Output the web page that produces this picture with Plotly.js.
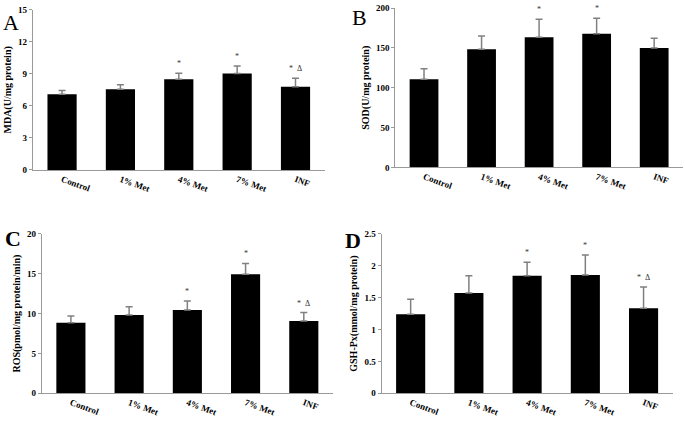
<!DOCTYPE html>
<html>
<head>
<meta charset="utf-8">
<script src="https://cdn.plot.ly/plotly-3.0.1.min.js"></script>
<style>html,body{margin:0;padding:0;background:#fff}#chart{width:685px;height:427px}</style>
</head>
<body>
<div id="chart"></div>
<script>
const categories = ["Control", "1% Met", "4% Met", "7% Met", "INF"];

const mdaMean = [7.1, 7.55, 8.5, 9.03, 7.8];
const mdaErr  = [0.35, 0.42, 0.55, 0.7, 0.8];
const mdaSig  = ["", "", "*", "*", "*\u00a0\u00a0\u0394"];

const sodMean = [110.7, 148.4, 163.5, 167.7, 150];
const sodErr  = [13, 16.6, 22.5, 19.7, 12];
const sodSig  = ["", "", "*", "*", ""];

const rosMean = [8.87, 9.83, 10.46, 14.94, 9.08];
const rosErr  = [0.83, 1.05, 1.13, 1.36, 1.05];
const rosSig  = ["", "", "*", "*", "*\u00a0\u00a0\u0394"];

const gshMean = [1.24, 1.574, 1.846, 1.857, 1.334];
const gshErr  = [0.235, 0.272, 0.209, 0.313, 0.334];
const gshSig  = ["", "", "*", "*", "*\u00a0\u00a0\u0394"];

const panelTitles = ["MDA(U/mg protein)", "SOD(U/mg protein)", "ROS(pmol/mg protein/min)", "GSH-Px(mmol/mg protein)"];
const panelLetters = ["A", "B", "C", "D"];
const yRanges = [[0, 15], [0, 200], [0, 20], [0, 2.5]];
const yDticks = [3, 50, 5, 0.5];

const panels = [
  {mean: mdaMean, err: mdaErr, sig: mdaSig, xd: [0.048, 0.474], yd: [0.602, 0.977]},
  {mean: sodMean, err: sodErr, sig: sodSig, xd: [0.577, 0.997], yd: [0.608, 0.981]},
  {mean: rosMean, err: rosErr, sig: rosSig, xd: [0.061, 0.486], yd: [0.079, 0.452]},
  {mean: gshMean, err: gshErr, sig: gshSig, xd: [0.557, 0.982], yd: [0.079, 0.452]}
];

const serif = "Liberation Serif, Times New Roman, serif";
const traces = [];
const annotations = [];
const layout = {
  width: 685, height: 427,
  margin: {l: 0, r: 0, t: 0, b: 0},
  paper_bgcolor: "#fff", plot_bgcolor: "#fff",
  showlegend: false,
  bargap: 0.5,
  font: {family: serif, color: "#000"}
};
const letterPos = [[10.5, 32], [359.5, 27], [13, 248], [353, 250]];
const letterBold = [false, false, true, true];

panels.forEach((p, i) => {
  const n = i === 0 ? "" : String(i + 1);
  traces.push({
    type: "bar", x: categories, y: p.mean,
    xaxis: "x" + n, yaxis: "y" + n,
    marker: {color: "#000", line: {width: 0}},
    error_y: {type: "data", symmetric: false, array: p.err, arrayminus: p.err.map(() => 0),
              color: "#808080", thickness: 1.5, width: 3.5},
    hoverinfo: "skip"
  });
  layout["xaxis" + n] = {
    domain: p.xd, anchor: "y" + n, range: [-0.5, 4.5],
    showline: true, linecolor: "#9a9a9a", linewidth: 1,
    ticks: "", tickangle: 20,
    tickfont: {family: serif, size: 9, color: "#000", weight: "bold"},
    showgrid: false, zeroline: false, fixedrange: true
  };
  layout["yaxis" + n] = {
    domain: p.yd, anchor: "x" + n, range: yRanges[i], dtick: yDticks[i], tick0: 0,
    showline: true, linecolor: "#9a9a9a", linewidth: 1,
    ticks: "outside", ticklen: 3, tickcolor: "#9a9a9a",
    tickfont: {family: serif, size: 9, color: "#000", weight: "bold"},
    showgrid: false, zeroline: false, fixedrange: true,
    title: {text: panelTitles[i], font: {family: serif, size: 10, color: "#000", weight: "bold"}, standoff: 4}
  };
  p.sig.forEach((s, k) => {
    if (!s) return;
    annotations.push({
      xref: "x" + n, yref: "y" + n, x: categories[k], y: p.mean[k] + p.err[k],
      text: s, showarrow: false, yanchor: "bottom", yshift: 3,
      font: {family: serif, size: 8, color: "#333"}
    });
  });
  annotations.push({
    xref: "paper", yref: "paper",
    x: letterPos[i][0] / 685, y: 1 - letterPos[i][1] / 427,
    xanchor: "center", yanchor: "bottom", yshift: -5,
    text: letterBold[i] ? "<b>" + panelLetters[i] + "</b>" : panelLetters[i],
    showarrow: false, font: {family: serif, size: 22, color: "#000"}
  });
});
layout.annotations = annotations;

Plotly.newPlot("chart", traces, layout, {displayModeBar: false, staticPlot: true});
</script>
</body>
</html>
